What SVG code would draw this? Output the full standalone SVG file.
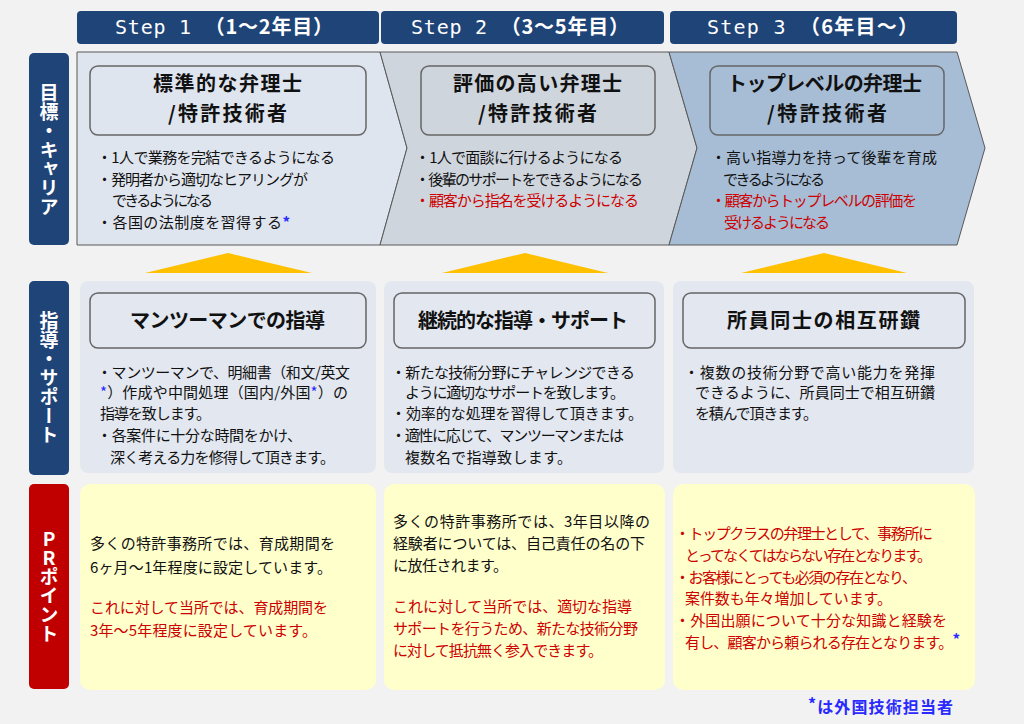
<svg xmlns="http://www.w3.org/2000/svg" width="1024" height="724" viewBox="0 0 1024 724">
<style>
.hdr{fill:#1f4478}
.hdrt{fill:#fff;font-family:"DejaVu Sans Mono","Noto Sans CJK JP",monospace;font-size:20px}
.hb{font-family:"Noto Sans CJK JP",sans-serif;font-weight:bold}
.lbl{fill:#1f4478}
.lblr{fill:#c00000}
.vt{fill:#fff;font-family:"Noto Sans CJK JP",sans-serif;font-size:19px;font-weight:bold;writing-mode:vertical-rl;text-orientation:upright;text-anchor:middle}
.sec{stroke:#595959;stroke-width:1}
.tbox{fill:none;stroke:#666;stroke-width:1.5}
.ttl{fill:#111;font-family:"Noto Sans CJK JP",sans-serif;font-size:20px;font-weight:bold}
.b{fill:#111;font-family:"Noto Sans CJK JP",sans-serif;font-size:15px}
.r{fill:#cc0000}
.s{fill:#2a2aff}
.panel{fill:#e2e7f0}
.ypanel{fill:#ffffcc}
.tri{fill:#ffc000}
</style>
<rect x="0" y="0" width="1024" height="724" fill="#f2f2f2"/>

<g id="headers">
<rect class="hdr" x="77" y="11" width="302" height="33" rx="4"/>
<text class="hdrt" x="115" y="34" textLength="218" lengthAdjust="spacing">Step 1 <tspan class="hb">（1～2年目）</tspan></text>
<rect class="hdr" x="381" y="11" width="283" height="33" rx="4"/>
<text class="hdrt" x="411" y="34" textLength="218" lengthAdjust="spacing">Step 2 <tspan class="hb">（3～5年目）</tspan></text>
<rect class="hdr" x="670" y="11" width="287" height="33" rx="4"/>
<text class="hdrt" x="707" y="34" textLength="211" lengthAdjust="spacing">Step 3 <tspan class="hb">（6年目～）</tspan></text>
</g>

<g id="label-career">
<rect class="lbl" x="29" y="53" width="40" height="192" rx="5"/>
<text class="vt" x="49" y="150">目標・キャリア</text>
</g>
<g id="label-support">
<rect class="lbl" x="29" y="281" width="40" height="194" rx="5"/>
<text class="vt" x="49" y="378">指導・サポート</text>
</g>
<g id="label-pr">
<rect class="lblr" x="29" y="484" width="40" height="205" rx="5"/>
<text class="vt" x="49" y="586">PRポイント</text>
</g>

<g id="step1-career">
<polygon class="sec" points="77,52 380,52 407,148 380,245 77,245" fill="#dfe5ee"/>
<rect class="tbox" x="90" y="66" width="276" height="69" rx="8"/>
<text class="ttl" x="153" y="91" textLength="149" lengthAdjust="spacing">標準的な弁理士</text>
<text class="ttl" x="168" y="121" textLength="119" lengthAdjust="spacing">/特許技術者</text>
<text class="b" x="97" y="163" textLength="238" lengthAdjust="spacing">・1人で業務を完結できるようになる</text>
<text class="b" x="97" y="185" textLength="211" lengthAdjust="spacing">・発明者から適切なヒアリングが</text>
<text class="b" x="112" y="206" textLength="101" lengthAdjust="spacing">できるようになる</text>
<text class="b" x="97" y="228" textLength="193" lengthAdjust="spacing">・各国の法制度を習得する<tspan class="s" font-weight="bold">*</tspan></text>
</g>

<g id="step2-career">
<polygon class="sec" points="380,52 669,52 697,148 669,245 380,245 407,148" fill="#cfd5dd"/>
<rect class="tbox" x="421" y="66" width="234" height="69" rx="8"/>
<text class="ttl" x="453" y="91" textLength="169" lengthAdjust="spacing">評価の高い弁理士</text>
<text class="ttl" x="478" y="121" textLength="119" lengthAdjust="spacing">/特許技術者</text>
<text class="b" x="415" y="163" textLength="208" lengthAdjust="spacing">・1人で面談に行けるようになる</text>
<text class="b" x="415" y="185" textLength="228" lengthAdjust="spacing">・後輩のサポートをできるようになる</text>
<text class="b r" x="415" y="206" textLength="224" lengthAdjust="spacing">・顧客から指名を受けるようになる</text>
</g>

<g id="step3-career">
<polygon class="sec" points="669,52 957,52 985,148 957,245 669,245 697,148" fill="#a7bdd5"/>
<rect class="tbox" x="710" y="66" width="234" height="69" rx="8"/>
<text class="ttl" x="727" y="91" textLength="195" lengthAdjust="spacing">トップレベルの弁理士</text>
<text class="ttl" x="767" y="121" textLength="120" lengthAdjust="spacing">/特許技術者</text>
<text class="b" x="711" y="163" textLength="226" lengthAdjust="spacing">・高い指導力を持って後輩を育成</text>
<text class="b" x="723" y="185" textLength="102" lengthAdjust="spacing">できるようになる</text>
<text class="b r" x="711" y="206" textLength="206" lengthAdjust="spacing">・顧客からトップレベルの評価を</text>
<text class="b r" x="724" y="228" textLength="106" lengthAdjust="spacing">受けるようになる</text>
</g>

<g id="connectors">
<polygon class="tri" points="145,273 228,253 312,273"/>
<polygon class="tri" points="442,273 525,253 608,273"/>
<polygon class="tri" points="741,273 824,253 907,273"/>
</g>

<g id="step1-support">
<rect class="panel" x="80" y="281" width="296" height="192" rx="8"/>
<rect class="tbox" x="90" y="293" width="276" height="55" rx="8"/>
<text class="ttl" x="130" y="328" textLength="195" lengthAdjust="spacing">マンツーマンでの指導</text>
<text class="b" x="97" y="378" textLength="253" lengthAdjust="spacing">・マンツーマンで、明細書（和文/英文</text>
<text class="b" x="100" y="398" textLength="248" lengthAdjust="spacing"><tspan class="s">*</tspan>）作成や中間処理（国内/外国<tspan class="s">*</tspan>）の</text>
<text class="b" x="100" y="419" textLength="111" lengthAdjust="spacing">指導を致します。</text>
<text class="b" x="97" y="441" textLength="205" lengthAdjust="spacing">・各案件に十分な時間をかけ、</text>
<text class="b" x="110" y="463" textLength="225" lengthAdjust="spacing">深く考える力を修得して頂きます。</text>
</g>

<g id="step2-support">
<rect class="panel" x="384" y="281" width="280" height="192" rx="8"/>
<rect class="tbox" x="394" y="293" width="261" height="55" rx="8"/>
<text class="ttl" x="418" y="328" textLength="210" lengthAdjust="spacing">継続的な指導・サポート</text>
<text class="b" x="391" y="378" textLength="244" lengthAdjust="spacing">・新たな技術分野にチャレンジできる</text>
<text class="b" x="405" y="398" textLength="220" lengthAdjust="spacing">ように適切なサポートを致します。</text>
<text class="b" x="391" y="419" textLength="252" lengthAdjust="spacing">・効率的な処理を習得して頂きます。</text>
<text class="b" x="391" y="441" textLength="233" lengthAdjust="spacing">・適性に応じて、マンツーマンまたは</text>
<text class="b" x="405" y="463" textLength="167" lengthAdjust="spacing">複数名で指導致します。</text>
</g>

<g id="step3-support">
<rect class="panel" x="673" y="281" width="301" height="192" rx="8"/>
<rect class="tbox" x="683" y="293" width="282" height="55" rx="8"/>
<text class="ttl" x="727" y="328" textLength="193" lengthAdjust="spacing">所員同士の相互研鑽</text>
<text class="b" x="684" y="378" textLength="251" lengthAdjust="spacing">・複数の技術分野で高い能力を発揮</text>
<text class="b" x="695" y="398" textLength="240" lengthAdjust="spacing">できるように、所員同士で相互研鑽</text>
<text class="b" x="695" y="419" textLength="123" lengthAdjust="spacing">を積んで頂きます。</text>
</g>

<g id="step1-pr">
<rect class="ypanel" x="80" y="484" width="296" height="206" rx="10"/>
<text class="b" x="90" y="549" textLength="245" lengthAdjust="spacing">多くの特許事務所では、育成期間を</text>
<text class="b" x="90" y="573" textLength="242" lengthAdjust="spacing">6ヶ月～1年程度に設定しています。</text>
<text class="b r" x="90" y="613" textLength="238" lengthAdjust="spacing">これに対して当所では、育成期間を</text>
<text class="b r" x="90" y="636" textLength="227" lengthAdjust="spacing">3年～5年程度に設定しています。</text>
</g>

<g id="step2-pr">
<rect class="ypanel" x="384" y="484" width="281" height="206" rx="10"/>
<text class="b" x="393" y="527" textLength="257" lengthAdjust="spacing">多くの特許事務所では、3年目以降の</text>
<text class="b" x="393" y="549" textLength="252" lengthAdjust="spacing">経験者については、自己責任の名の下</text>
<text class="b" x="393" y="571" textLength="115" lengthAdjust="spacing">に放任されます。</text>
<text class="b r" x="393" y="612" textLength="239" lengthAdjust="spacing">これに対して当所では、適切な指導</text>
<text class="b r" x="393" y="634" textLength="245" lengthAdjust="spacing">サポートを行うため、新たな技術分野</text>
<text class="b r" x="393" y="656" textLength="210" lengthAdjust="spacing">に対して抵抗無く参入できます。</text>
</g>

<g id="step3-pr">
<rect class="ypanel" x="673" y="484" width="302" height="206" rx="10"/>
<text class="b r" x="675" y="539" textLength="258" lengthAdjust="spacing">・トップクラスの弁理士として、事務所に</text>
<text class="b r" x="685" y="561" textLength="247" lengthAdjust="spacing">とってなくてはならない存在となります。</text>
<text class="b r" x="675" y="583" textLength="242" lengthAdjust="spacing">・お客様にとっても必須の存在となり、</text>
<text class="b r" x="685" y="604" textLength="207" lengthAdjust="spacing">案件数も年々増加しています。</text>
<text class="b r" x="675" y="626" textLength="272" lengthAdjust="spacing">・外国出願について十分な知識と経験を</text>
<text class="b r" x="685" y="648" textLength="275" lengthAdjust="spacing">有し、顧客から頼られる存在となります。<tspan class="s" font-weight="bold" dy="-3">*</tspan></text>
</g>

<g id="footnote">
<text x="808" y="713" font-family="Noto Sans CJK JP, sans-serif" font-size="16" font-weight="bold" fill="#2a2aff" textLength="145" lengthAdjust="spacing"><tspan dy="-3">*</tspan><tspan dy="3">は外国技術担当者</tspan></text>
</g>
</svg>
